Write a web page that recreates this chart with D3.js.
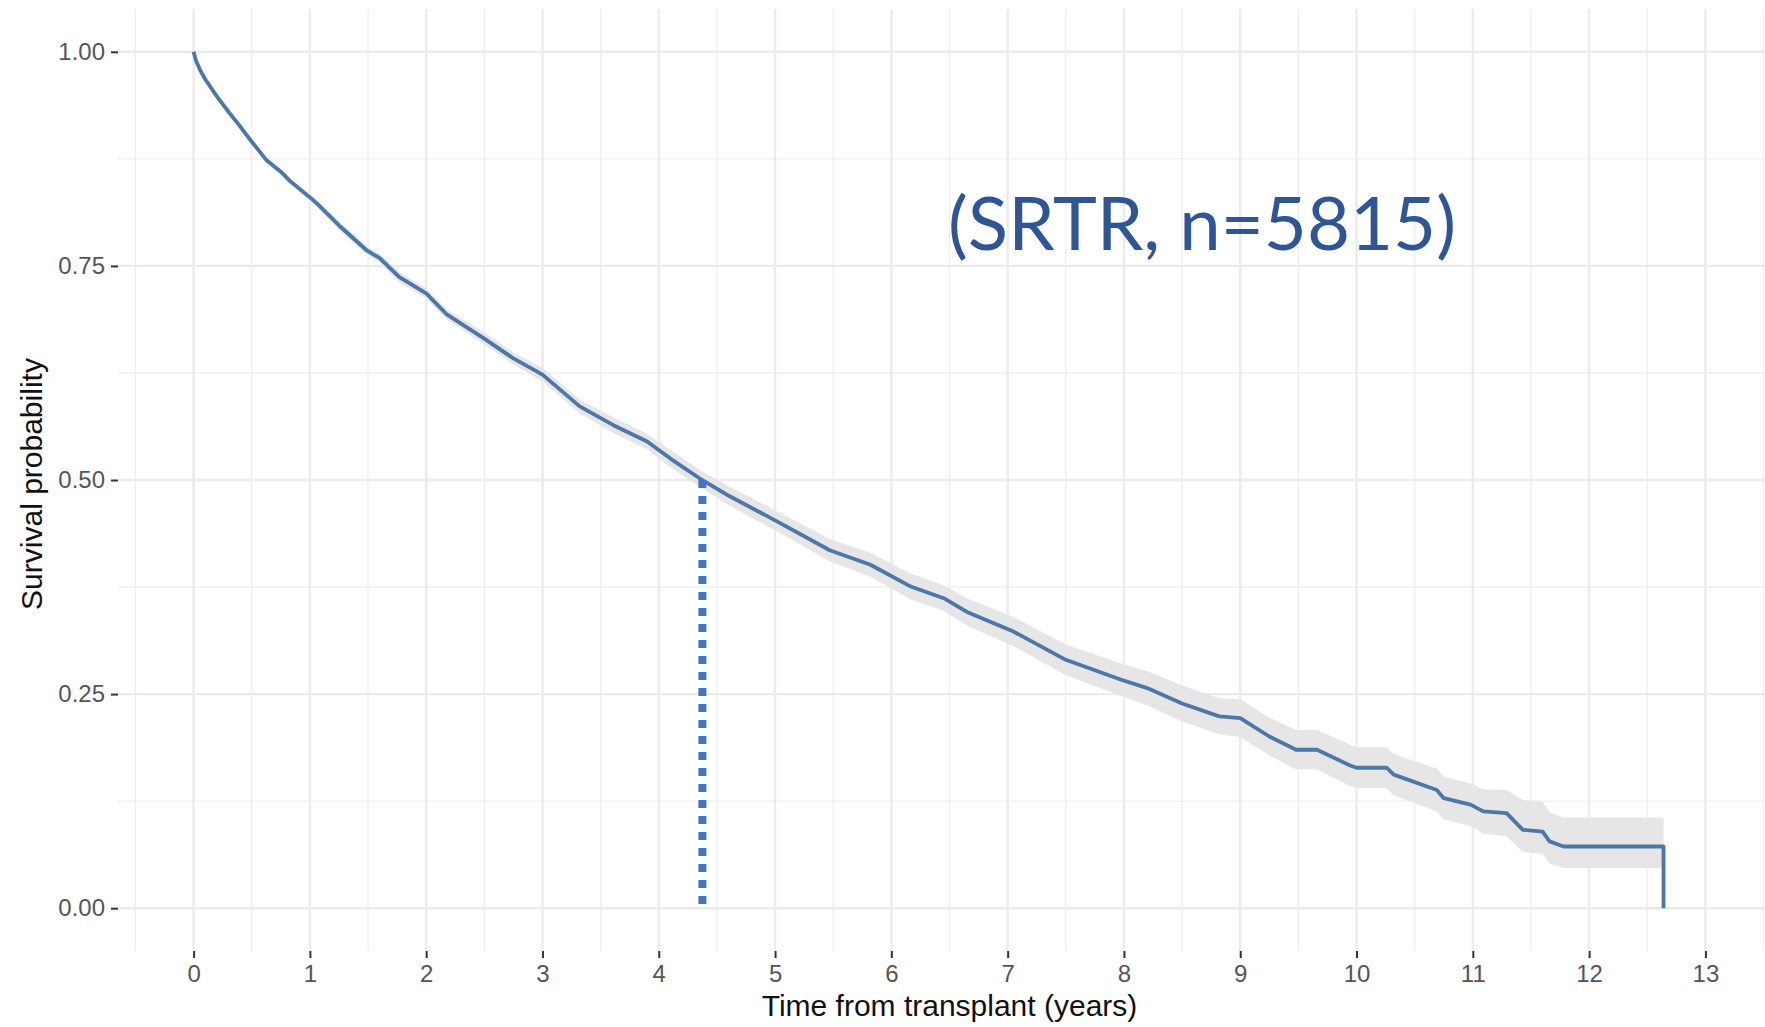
<!DOCTYPE html>
<html>
<head>
<meta charset="utf-8">
<script src="https://cdn.jsdelivr.net/npm/d3@7"></script>
<style>
  html, body { margin: 0; padding: 0; background: #ffffff; }
  svg { display: block; }
</style>
</head>
<body>
<svg id="chart" width="1765" height="1027"></svg>
<script>
// ---- data ----
const kmTime = [0, 0.02, 0.055, 0.1, 0.2, 0.3, 0.4, 0.5, 0.63, 0.75, 0.83, 1.0, 1.06, 1.26, 1.49, 1.6, 1.77,
  2.0, 2.18, 2.49, 2.75, 3.0, 3.32, 3.61, 3.9, 4.1, 4.35, 4.61, 5.04, 5.47, 5.82, 6.16, 6.45, 6.65,
  7.05, 7.5, 7.97, 8.2, 8.5, 8.82, 9.0, 9.25, 9.48, 9.66, 9.94, 10.0, 10.26, 10.32, 10.69, 10.75,
  10.98, 11.09, 11.29, 11.43, 11.6, 11.66, 11.78, 12.64, 12.64];
const kmSurv = [1.0, 0.99, 0.979, 0.968, 0.948, 0.93, 0.913, 0.895, 0.873, 0.86, 0.849, 0.83, 0.823, 0.796, 0.768, 0.759, 0.737,
  0.718, 0.693, 0.666, 0.642, 0.623, 0.586, 0.564, 0.545, 0.525, 0.502, 0.481, 0.45, 0.418, 0.401, 0.376, 0.362, 0.346,
  0.323, 0.29, 0.267, 0.257, 0.239, 0.224, 0.222, 0.2005, 0.185, 0.185, 0.167, 0.164, 0.164, 0.156, 0.138, 0.1285,
  0.121, 0.113, 0.111, 0.0915, 0.0895, 0.078, 0.072, 0.072, 0.0];
// 95% confidence band, at the same times as kmTime
const kmLower = [1.0, 0.989, 0.978, 0.967, 0.946, 0.928, 0.911, 0.892, 0.870, 0.857, 0.845, 0.826, 0.819, 0.791, 0.763, 0.754, 0.731,
  0.712, 0.687, 0.659, 0.635, 0.615, 0.578, 0.555, 0.536, 0.515, 0.492, 0.470, 0.438, 0.405, 0.387, 0.361, 0.347, 0.330,
  0.306, 0.272, 0.248, 0.237, 0.218, 0.203, 0.200, 0.1785, 0.162, 0.162, 0.143, 0.140, 0.140, 0.132, 0.113, 0.1035,
  0.096, 0.087, 0.084, 0.0655, 0.0635, 0.052, 0.047, 0.047, 0.047];
const kmUpper = [1.0, 0.991, 0.980, 0.969, 0.950, 0.932, 0.915, 0.898, 0.876, 0.863, 0.853, 0.834, 0.827, 0.801, 0.773, 0.764, 0.743,
  0.724, 0.699, 0.673, 0.649, 0.631, 0.594, 0.573, 0.554, 0.535, 0.512, 0.492, 0.462, 0.431, 0.415, 0.391, 0.377, 0.362,
  0.340, 0.308, 0.286, 0.277, 0.260, 0.245, 0.244, 0.2225, 0.208, 0.208, 0.191, 0.188, 0.188, 0.180, 0.163, 0.1535,
  0.146, 0.139, 0.138, 0.1265, 0.1245, 0.112, 0.106, 0.106, 0.106];

const xTicks = [0, 1, 2, 3, 4, 5, 6, 7, 8, 9, 10, 11, 12, 13];
const yTicks = [0, 0.25, 0.5, 0.75, 1.0];
const yTickLabels = ["0.00", "0.25", "0.50", "0.75", "1.00"];
const xMinor = [-0.5, 0.5, 1.5, 2.5, 3.5, 4.5, 5.5, 6.5, 7.5, 8.5, 9.5, 10.5, 11.5, 12.5, 13.5];
const yMinor = [0.125, 0.375, 0.625, 0.875];

const medianTime = 4.375;
const medianSurv = [0.5, 0.0];

const xTitle = "Time from transplant (years)";
const yTitle = "Survival probability";
const annotation = "(SRTR, n=5815)";

// ---- drawing ----
const svg = d3.select("#chart");
const panel = { left: 118, right: 1781, top: 9, bottom: 951 };

const x = d3.scaleLinear().domain([-0.65, 13.65]).range([panel.left, panel.right]);
const y = d3.scaleLinear().domain([-0.05, 1.05]).range([panel.bottom, panel.top]);

svg.append("rect").attr("width", 1765).attr("height", 1027).attr("fill", "#ffffff");

const grid = svg.append("g");
grid.selectAll(".xm").data(xMinor).enter().append("line")
  .attr("x1", d => x(d)).attr("x2", d => x(d))
  .attr("y1", panel.top).attr("y2", panel.bottom)
  .attr("stroke", "#efefef").attr("stroke-width", 1.4);
grid.selectAll(".ym").data(yMinor).enter().append("line")
  .attr("y1", d => y(d)).attr("y2", d => y(d))
  .attr("x1", panel.left).attr("x2", panel.right)
  .attr("stroke", "#efefef").attr("stroke-width", 1.4);
grid.selectAll(".xM").data(xTicks).enter().append("line")
  .attr("x1", d => x(d)).attr("x2", d => x(d))
  .attr("y1", panel.top).attr("y2", panel.bottom)
  .attr("stroke", "#ebebeb").attr("stroke-width", 2.4);
grid.selectAll(".yM").data(yTicks).enter().append("line")
  .attr("y1", d => y(d)).attr("y2", d => y(d))
  .attr("x1", panel.left).attr("x2", panel.right)
  .attr("stroke", "#ebebeb").attr("stroke-width", 2.4);

const kmData = kmTime.map((t, i) => ({ t, s: kmSurv[i], lo: kmLower[i], hi: kmUpper[i] }));

// confidence band
svg.append("path")
  .datum(kmData)
  .attr("fill", "#e6e6e6")
  .attr("d", d3.area().x(d => x(d.t)).y0(d => y(d.lo)).y1(d => y(d.hi)));

// survival curve
svg.append("path")
  .datum(kmData)
  .attr("fill", "none")
  .attr("stroke", "#4b77a9")
  .attr("stroke-width", 3.8)
  .attr("stroke-linejoin", "round")
  .attr("d", d3.line().x(d => x(d.t)).y(d => y(d.s)));

// median dotted line
svg.append("line")
  .attr("x1", x(medianTime)).attr("x2", x(medianTime))
  .attr("y1", y(medianSurv[0])).attr("y2", y(medianSurv[1]))
  .attr("stroke", "#4472c4").attr("stroke-width", 8)
  .attr("stroke-dasharray", "8,8");

// axes
const fontFam = "'Liberation Sans', Arial, Helvetica, sans-serif";
const xAxis = svg.append("g")
  .attr("transform", `translate(0,${panel.bottom})`)
  .call(d3.axisBottom(x).tickValues(xTicks).tickFormat(d3.format("d")).tickSize(7).tickPadding(7));
const yAxis = svg.append("g")
  .attr("transform", `translate(${panel.left},0)`)
  .call(d3.axisLeft(y).tickValues(yTicks).tickFormat((d, i) => yTickLabels[i]).tickSize(7).tickPadding(6));
[xAxis, yAxis].forEach(a => {
  a.select(".domain").remove();
  a.selectAll(".tick line").attr("stroke", "#333333").attr("stroke-width", 2);
  a.selectAll(".tick text").attr("fill", "#555555").style("font-family", fontFam).style("font-size", "24px");
});

svg.append("text")
  .attr("x", (panel.left + panel.right) / 2).attr("y", 1016)
  .attr("text-anchor", "middle")
  .style("font-family", fontFam).style("font-size", "30px")
  .attr("fill", "#111111")
  .text(xTitle);

svg.append("text")
  .attr("transform", `translate(42,${(panel.top + panel.bottom) / 2 + 4}) rotate(-90)`)
  .attr("text-anchor", "middle")
  .style("font-family", fontFam).style("font-size", "30px")
  .attr("fill", "#111111")
  .text(yTitle);

const ann = svg.append("text")
  .attr("x", 948).attr("y", 250)
  .style("font-family", "Lato, 'Open Sans', sans-serif").style("font-size", "81px")
  .attr("fill", "#2f5597")
  .text(annotation);
const w = ann.node().getComputedTextLength();
ann.style("font-size", (81 * 508 / w).toFixed(1) + "px");
</script>
</body>
</html>
